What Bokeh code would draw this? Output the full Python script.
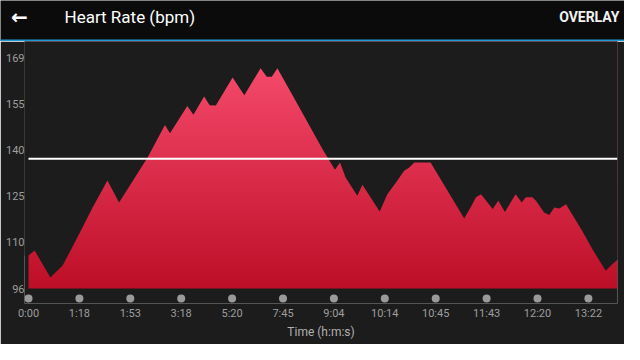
import numpy as np
from bokeh.plotting import figure
from bokeh.layouts import column
from bokeh.models import Label, FixedTicker, BoxAnnotation, Range1d
from bokeh.embed import file_html
from bokeh.resources import INLINE

# ---- data ----
sample_pos = [0, 1.2, 4.3, 6.7, 8.6, 10.6, 12.6, 15.5, 17.8, 23.4,
              26.8, 27.8, 31.2, 32.4, 34.5, 35.6, 36.8, 40.1, 42.4, 45.6,
              46.8, 47.8, 48.9, 51.9, 54.5, 57.8, 60.2, 61.2, 62.3, 64.6,
              65.6, 69.0, 70.5, 72.2, 73.8, 74.8, 75.8, 79.0, 85.6, 87.2,
              87.9, 88.9, 91.2, 92.3, 93.6, 95.7, 96.9, 97.7, 99.0, 99.7,
              101.3, 102.3, 103.3, 104.3, 105.6, 108.8, 110.8, 113.4, 114.7, 115.7]
heart_rate = [106.4, 108.0, 99.5, 103.3, 109.0, 115.3, 121.6, 130.1, 123.2, 137.4,
              147.7, 145.1, 153.7, 150.9, 156.7, 153.9, 153.8, 162.7, 157.1, 165.6,
              162.9, 162.9, 165.6, 157.0, 149.5, 139.9, 133.5, 135.8, 131.1, 125.3,
              128.8, 120.3, 125.8, 129.5, 133.2, 134.2, 135.8, 135.8, 118.1, 122.6,
              124.8, 125.8, 121.1, 123.7, 120.2, 125.8, 123.2, 124.8, 124.8, 123.7,
              120.0, 119.2, 121.6, 121.3, 122.6, 114.2, 108.4, 101.6, 103.7, 105.1]
average_hr = 137
x_tick_labels = ["0:00", "1:18", "1:53", "3:18", "5:20", "7:45",
                 "9:04", "10:14", "10:45", "11:43", "12:20", "13:22"]
y_tick_labels = ["96", "110", "125", "140", "155", "169"]
y_min, y_max = 96, 169

# ---- styling / geometry ----
BG = "#1c1c1c"
HEADER_BG = "#0b0b0b"
FONT = "Roboto"
W = 624
HEADER_H = 41
CHART_H = 303
frame_left, frame_right_border = 24, 7
frame_h = 262
px_per_unit_y = 231 / (y_max - y_min)
y_top = y_max + 16 / px_per_unit_y
y_bottom = y_top - frame_h / px_per_unit_y
x_step = 10
px_per_unit_x = 5.09
x_start = -4 / px_per_unit_x
x_end = x_start + (W - frame_left - frame_right_border) / px_per_unit_x

# ---- header ----
header = figure(width=W, height=HEADER_H, x_range=Range1d(0, W), y_range=Range1d(0, HEADER_H),
                output_backend="svg", toolbar_location=None,
                x_axis_location=None, y_axis_location=None, min_border=0)
header.frame_align = False
header.grid.visible = False
header.outline_line_color = None
header.background_fill_color = HEADER_BG
header.border_fill_color = HEADER_BG
header.add_layout(BoxAnnotation(bottom=0, top=2, fill_color="#1d9ad7", fill_alpha=1, line_color=None))
header.add_layout(Label(x=19, y=25, text="←", text_align="center", text_baseline="middle",
                        text_font="DejaVu Sans", text_font_size="20px", text_font_style="bold",
                        text_color="#ffffff"))
header.add_layout(Label(x=64, y=25, text="Heart Rate (bpm)", text_align="left", text_baseline="middle",
                        text_font=FONT, text_font_size="17px", text_color="#ffffff"))
header.add_layout(Label(x=619, y=25, text="OVERLAY", text_align="right", text_baseline="middle",
                        text_font=FONT, text_font_size="14px", text_font_style="bold",
                        text_color="#f2f2f2"))

# ---- chart ----
p = figure(width=W, height=CHART_H, x_range=Range1d(x_start, x_end), y_range=Range1d(y_bottom, y_top),
           output_backend="svg", toolbar_location=None,
           min_border_left=frame_left, min_border_right=frame_right_border,
           min_border_top=0, min_border_bottom=CHART_H - frame_h)
p.frame_align = False
p.grid.visible = False
p.outline_line_color = None
p.background_fill_color = BG
p.border_fill_color = BG

# vertical gradient fill under the curve
n = 256
vals = np.linspace(y_min, y_top, n)
t = np.clip((vals - y_min) / (166 - y_min), 0, 1)
bot = np.array([190, 15, 40])
top = np.array([246, 74, 108])
rgb = (bot[None, :] + t[:, None] * (top - bot)[None, :]).astype(np.uint8)
img = np.zeros((n, 1), dtype=np.uint32)
view = img.view(dtype=np.uint8).reshape((n, 1, 4))
view[:, 0, 0] = rgb[:, 0]
view[:, 0, 1] = rgb[:, 1]
view[:, 0, 2] = rgb[:, 2]
view[:, 0, 3] = 255
p.image_rgba(image=[img], x=sample_pos[0], y=y_min,
             dw=sample_pos[-1] - sample_pos[0], dh=y_top - y_min)
# mask above the curve (extended a little past both ends so no edge shows)
mask_x = [x_start - 2] + list(sample_pos) + [x_end + 2]
mask_y = [heart_rate[0]] + list(heart_rate) + [heart_rate[-1]]
p.varea(x=mask_x, y1=mask_y, y2=[y_top + 5] * len(mask_x), fill_color=BG)

# average line across the data span
p.segment(x0=[sample_pos[0]], x1=[sample_pos[-1]], y0=[average_hr], y1=[average_hr],
          line_color="#ffffff", line_width=2)

# x tick dots
x_ticks = [i * x_step for i in range(len(x_tick_labels))]
dot_y = y_min - 10 / px_per_unit_y
p.scatter(x=x_ticks, y=[dot_y] * len(x_ticks), size=8, color="#9a9a9a", line_color=None)

# axes
y_ticks = [y_min + k * (y_max - y_min) / (len(y_tick_labels) - 1) for k in range(len(y_tick_labels))]
p.yaxis.ticker = FixedTicker(ticks=y_ticks)
p.yaxis.major_label_overrides = {tv: lab for tv, lab in zip(y_ticks, y_tick_labels)}
p.xaxis.ticker = FixedTicker(ticks=x_ticks)
p.xaxis.major_label_overrides = {tv: lab for tv, lab in zip(x_ticks, x_tick_labels)}
for ax in (p.xaxis, p.yaxis):
    ax.axis_line_color = None
    ax.major_tick_line_color = None
    ax.minor_tick_line_color = None
    ax.major_tick_out = 0
    ax.major_tick_in = 0
    ax.major_label_text_font = FONT
    ax.major_label_text_font_size = "11px"
    ax.major_label_text_color = "#9e9e9e"
p.yaxis.major_label_standoff = 0
p.xaxis.major_label_standoff = 3
p.xaxis.axis_label = "Time (h:m:s)"
p.xaxis.axis_label_text_font = FONT
p.xaxis.axis_label_text_font_size = "12px"
p.xaxis.axis_label_text_font_style = "normal"
p.xaxis.axis_label_text_color = "#b0b0b0"
p.xaxis.axis_label_standoff = 2

layout = column(header, p, spacing=0)
open("out.html", "w").write(file_html(layout, INLINE))
